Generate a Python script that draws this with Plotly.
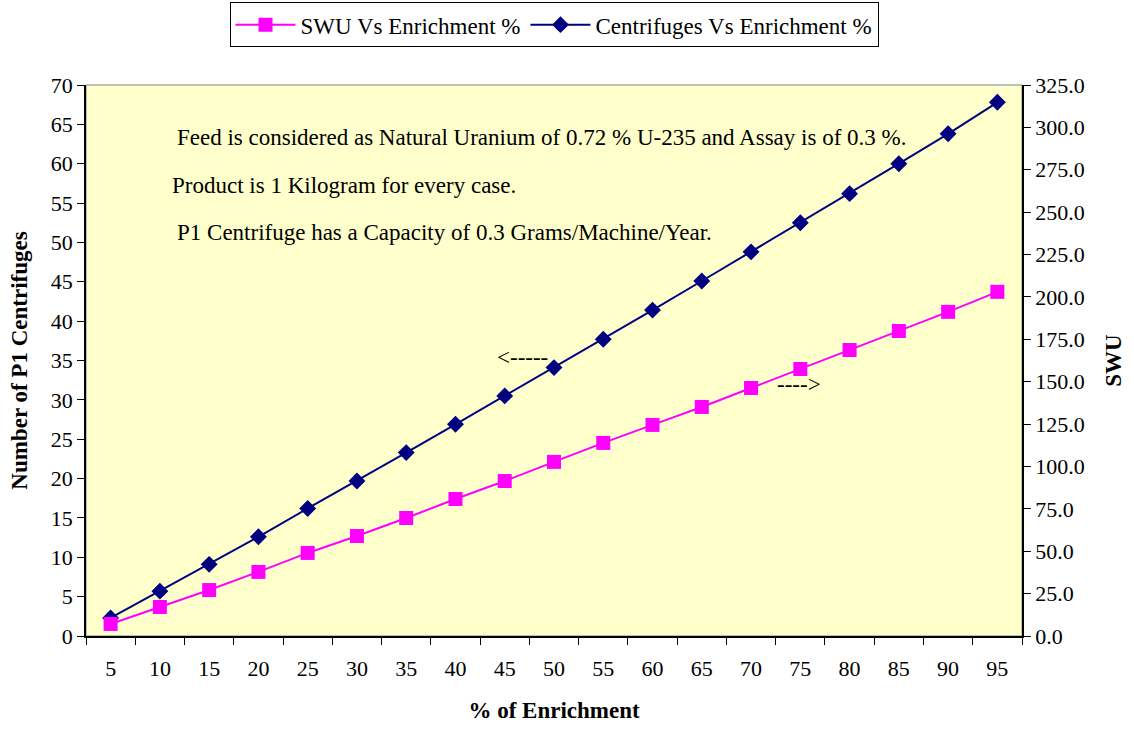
import plotly.graph_objects as go

enrichment = ["5", "10", "15", "20", "25", "30", "35", "40", "45", "50",
              "55", "60", "65", "70", "75", "80", "85", "90", "95"]
swu = [7.1, 17.1, 27.1, 37.8, 49.0, 59.0, 69.6, 80.8, 91.4, 102.7,
       113.9, 124.5, 135.1, 146.3, 157.5, 168.7, 179.9, 191.2, 203.0]
centrifuges = [2.3, 5.7, 9.1, 12.6, 16.2, 19.7, 23.3, 26.9, 30.5, 34.1,
               37.7, 41.4, 45.1, 48.8, 52.5, 56.2, 60.0, 63.8, 67.8]

FONT = "Liberation Serif, Times New Roman, serif"

fig = go.Figure()
fig.add_trace(go.Scatter(
    x=enrichment, y=swu, name="SWU Vs Enrichment %", yaxis="y2",
    mode="lines+markers",
    line=dict(color="#FF00FF", width=2),
    marker=dict(symbol="square", size=14, color="#FF00FF"),
))
fig.add_trace(go.Scatter(
    x=enrichment, y=centrifuges, name="Centrifuges Vs Enrichment %",
    mode="lines+markers",
    line=dict(color="#000080", width=2),
    marker=dict(symbol="diamond", size=13, color="#000080"),
))

fig.update_layout(
    width=1134, height=729,
    margin=dict(l=86, r=112, t=85, b=93),
    paper_bgcolor="white", plot_bgcolor="#FFFFCC",
    font=dict(family=FONT, size=22, color="black"),
    showlegend=True,
    legend=dict(orientation="h", x=0.5, xanchor="center", y=0.997, yanchor="top",
                yref="container", bordercolor="black", borderwidth=1,
                font=dict(size=23), itemwidth=60, traceorder="normal",
                tracegroupgap=0),
    xaxis=dict(type="category", range=[-0.5, 18.5], tickson="boundaries",
               ticks="outside", ticklen=7, automargin=False,
               tickcolor="black", showline=True, linecolor="black", linewidth=1.5,
               showgrid=False, zeroline=False,
               title=dict(text="<b>% of Enrichment</b>", font=dict(size=23), standoff=22),
               tickfont=dict(size=22), ticklabelstandoff=12),
    yaxis=dict(range=[0, 70], dtick=5, ticks="outside", ticklen=7, tickcolor="black",
               showline=True, linecolor="black", linewidth=1.5, showgrid=False,
               zeroline=False, tickfont=dict(size=22), automargin=False,
               title=dict(text="<b>Number of P1 Centrifuges</b>", font=dict(size=23), standoff=17)),
    yaxis2=dict(range=[0, 325], dtick=25, tickformat=".1f", overlaying="y", side="right",
                ticks="outside", ticklen=7, tickcolor="black", showline=True,
                linecolor="black", linewidth=1.5, showgrid=False, zeroline=False,
                tickfont=dict(size=22), automargin=False,
                title=dict(text="<b>SWU</b>", font=dict(size=23), standoff=21)),
)

fig.add_shape(type="rect", xref="paper", yref="paper", x0=0, x1=1, y0=0, y1=1,
              line=dict(color="#808080", width=1), layer="below")

notes = [
    ("Feed is considered as Natural Uranium of 0.72 % U-235 and Assay is of 0.3 %.", 175, 137),
    ("Product is 1 Kilogram for every case.", 170, 186),
    ("P1 Centrifuge has a Capacity of 0.3 Grams/Machine/Year.", 175, 233),
    ("<-----", 495, 357),
    ("---->", 775, 384),
]
for txt, px, py in notes:
    fig.add_annotation(text=txt, xref="paper", yref="paper",
                       x=(px - 86) / (1022 - 86), y=(636 - py) / (636 - 85),
                       xanchor="left", yanchor="middle", showarrow=False,
                       font=dict(size=23, family=FONT, color="black"))

fig.write_html("out.html")
